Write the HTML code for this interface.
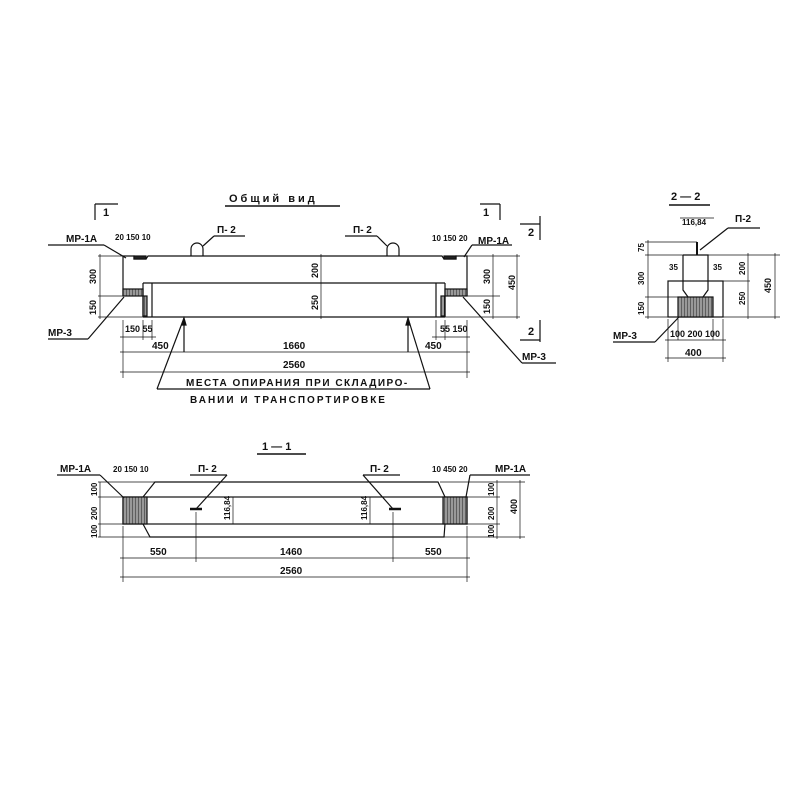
<!DOCTYPE html>
<html><head><meta charset="utf-8"><style>
html,body{margin:0;padding:0;background:#fff}
svg{display:block}
text{font-family:"Liberation Sans","DejaVu Sans",sans-serif;font-weight:bold;fill:#111}
</style></head><body>
<svg width="800" height="800" viewBox="0 0 800 800" xmlns="http://www.w3.org/2000/svg">
<defs>
<pattern id="h" width="3" height="3" patternUnits="userSpaceOnUse"><rect width="3" height="3" fill="#999"/><line x1="0" y1="0" x2="0" y2="3" stroke="#222" stroke-width="1"/></pattern>
</defs>
<g stroke="#111" fill="none" stroke-width="1.2">
<!-- ===== Общий вид ===== -->
<line x1="225" y1="206" x2="340" y2="206" stroke-width="1.5"/>
<!-- beam -->
<polyline points="123,296 123,256 134,256 134,259 146,259 148,256 442,256 444,259 456,259 456,256 467,256 467,296"/>
<line x1="143" y1="283" x2="445" y2="283"/>
<line x1="143" y1="317" x2="445" y2="317"/>
<line x1="143" y1="283" x2="143" y2="317"/>
<line x1="152" y1="283" x2="152" y2="317"/>
<line x1="445" y1="283" x2="445" y2="317"/>
<line x1="436" y1="283" x2="436" y2="317"/>
<rect x="123" y="289" width="20" height="7" fill="url(#h)"/>
<rect x="143" y="296" width="4" height="20" fill="url(#h)"/>
<rect x="445" y="289" width="22" height="7" fill="url(#h)"/>
<rect x="441" y="296" width="4" height="20" fill="url(#h)"/>
<rect x="134" y="256" width="12" height="3" fill="#222"/>
<rect x="444" y="256" width="12" height="3" fill="#222"/>
<!-- loops -->
<path d="M191,256 V249 a6,6 0 0 1 12,0 V256"/>
<path d="M387,256 V249 a6,6 0 0 1 12,0 V256"/>
<line x1="203" y1="246" x2="214" y2="236"/><line x1="214" y1="236" x2="245" y2="236"/>
<line x1="387" y1="246" x2="377" y2="236"/><line x1="377" y1="236" x2="345" y2="236"/>
<!-- section marks -->
<line x1="95" y1="204" x2="118" y2="204"/><line x1="95" y1="204" x2="95" y2="220"/>
<line x1="480" y1="204" x2="500" y2="204"/><line x1="500" y1="204" x2="500" y2="220"/>
<line x1="520" y1="224" x2="540" y2="224"/><line x1="540" y1="216" x2="540" y2="240"/>
<line x1="520" y1="340" x2="540" y2="340"/><line x1="540" y1="320" x2="540" y2="342"/>
<!-- left dims -->
<line x1="98" y1="256" x2="123" y2="256" stroke-width="0.7"/>
<line x1="98" y1="296" x2="123" y2="296" stroke-width="0.7"/>
<line x1="98" y1="317" x2="143" y2="317" stroke-width="0.7"/>
<line x1="100" y1="254" x2="100" y2="319" stroke-width="0.7"/>
<line x1="123" y1="320" x2="123" y2="378" stroke-width="0.7"/>
<line x1="467" y1="320" x2="467" y2="378" stroke-width="0.7"/>
<line x1="143" y1="320" x2="143" y2="340" stroke-width="0.7"/>
<line x1="152" y1="320" x2="152" y2="340" stroke-width="0.7"/>
<line x1="120" y1="337" x2="156" y2="337" stroke-width="0.7"/>
<line x1="120" y1="352" x2="470" y2="352" stroke-width="0.7"/>
<line x1="120" y1="372" x2="470" y2="372" stroke-width="0.7"/>
<line x1="436" y1="320" x2="436" y2="340" stroke-width="0.7"/>
<line x1="445" y1="320" x2="445" y2="340" stroke-width="0.7"/>
<line x1="432" y1="337" x2="470" y2="337" stroke-width="0.7"/>
<!-- center dims -->
<line x1="321" y1="254" x2="321" y2="319" stroke-width="0.7"/>
<!-- right dims -->
<line x1="467" y1="256" x2="520" y2="256" stroke-width="0.7"/>
<line x1="467" y1="296" x2="500" y2="296" stroke-width="0.7"/>
<line x1="445" y1="317" x2="520" y2="317" stroke-width="0.7"/>
<line x1="493" y1="254" x2="493" y2="319" stroke-width="0.7"/>
<line x1="517" y1="254" x2="517" y2="319" stroke-width="0.7"/>
<!-- leaders -->
<line x1="48" y1="245" x2="104" y2="245"/><line x1="104" y1="245" x2="126" y2="258"/>
<line x1="48" y1="339" x2="88" y2="339"/><line x1="88" y1="339" x2="124" y2="297"/>
<line x1="472" y1="245" x2="512" y2="245"/><line x1="472" y1="245" x2="464" y2="257"/>
<line x1="522" y1="363" x2="556" y2="363"/><line x1="522" y1="363" x2="463" y2="297"/>
<!-- supports -->
<line x1="184" y1="320" x2="184" y2="352"/>
<path d="M184,318 l-2,7 h4 z" fill="#111"/>
<line x1="408" y1="320" x2="408" y2="352"/>
<path d="M408,318 l-2,7 h4 z" fill="#111"/>
<line x1="184" y1="318" x2="157" y2="389"/>
<line x1="408" y1="318" x2="430" y2="389"/>
<line x1="157" y1="389" x2="430" y2="389"/>
<!-- ===== 1-1 ===== -->
<line x1="257" y1="454" x2="306" y2="454" stroke-width="1.5"/>
<polyline points="143,497 155,482 438,482 445,497"/>
<polyline points="143,524 150,537 444,537 445,524"/>
<rect x="123" y="497" width="344" height="27"/>
<rect x="123" y="497" width="24" height="27" fill="url(#h)"/>
<rect x="443" y="497" width="24" height="27" fill="url(#h)"/>
<line x1="190" y1="509" x2="202" y2="509" stroke-width="2.5"/>
<line x1="389" y1="509" x2="401" y2="509" stroke-width="2.5"/>
<line x1="57" y1="475" x2="100" y2="475"/><line x1="100" y1="475" x2="124" y2="498"/>
<line x1="190" y1="475" x2="227" y2="475"/><line x1="227" y1="475" x2="196" y2="509"/>
<line x1="363" y1="475" x2="400" y2="475"/><line x1="363" y1="475" x2="393" y2="509"/>
<line x1="470" y1="475" x2="530" y2="475"/><line x1="470" y1="475" x2="466" y2="497"/>
<line x1="100" y1="482" x2="100" y2="537" stroke-width="0.7"/>
<line x1="98" y1="482" x2="155" y2="482" stroke-width="0.7"/>
<line x1="98" y1="497" x2="123" y2="497" stroke-width="0.7"/>
<line x1="98" y1="524" x2="123" y2="524" stroke-width="0.7"/>
<line x1="98" y1="537" x2="150" y2="537" stroke-width="0.7"/>
<line x1="440" y1="482" x2="525" y2="482" stroke-width="0.7"/>
<line x1="467" y1="497" x2="500" y2="497" stroke-width="0.7"/>
<line x1="467" y1="524" x2="500" y2="524" stroke-width="0.7"/>
<line x1="444" y1="537" x2="525" y2="537" stroke-width="0.7"/>
<line x1="497" y1="480" x2="497" y2="539" stroke-width="0.7"/>
<line x1="520" y1="480" x2="520" y2="539" stroke-width="0.7"/>
<line x1="123" y1="526" x2="123" y2="582" stroke-width="0.7"/>
<line x1="467" y1="526" x2="467" y2="582" stroke-width="0.7"/>
<line x1="196" y1="512" x2="196" y2="562" stroke-width="0.7"/>
<line x1="393" y1="512" x2="393" y2="562" stroke-width="0.7"/>
<line x1="120" y1="558" x2="470" y2="558" stroke-width="0.7"/>
<line x1="120" y1="577" x2="470" y2="577" stroke-width="0.7"/>
<line x1="233" y1="497" x2="233" y2="524" stroke-width="0.7"/>
<line x1="370" y1="497" x2="370" y2="524" stroke-width="0.7"/>
<!-- ===== 2-2 ===== -->
<line x1="669" y1="205" x2="710" y2="205" stroke-width="1.5"/>
<polyline points="683,255 708,255 708,290 703,297"/>
<polyline points="683,255 683,290 688,297"/>
<rect x="668" y="281" width="55" height="36"/>
<rect x="678" y="297" width="35" height="20" fill="url(#h)"/>
<line x1="697" y1="242" x2="697" y2="255" stroke-width="2"/>
<line x1="700" y1="250" x2="728" y2="228"/><line x1="728" y1="228" x2="760" y2="228"/>
<line x1="613" y1="342" x2="655" y2="342"/><line x1="655" y1="342" x2="679" y2="317"/>
<line x1="648" y1="240" x2="648" y2="319" stroke-width="0.7"/>
<line x1="645" y1="242" x2="697" y2="242" stroke-width="0.7"/>
<line x1="645" y1="255" x2="683" y2="255" stroke-width="0.7"/>
<line x1="645" y1="297" x2="678" y2="297" stroke-width="0.7"/>
<line x1="645" y1="317" x2="668" y2="317" stroke-width="0.7"/>
<line x1="708" y1="255" x2="780" y2="255" stroke-width="0.7"/>
<line x1="723" y1="281" x2="750" y2="281" stroke-width="0.7"/>
<line x1="723" y1="317" x2="780" y2="317" stroke-width="0.7"/>
<line x1="748" y1="253" x2="748" y2="319" stroke-width="0.7"/>
<line x1="775" y1="253" x2="775" y2="319" stroke-width="0.7"/>
<line x1="680" y1="218" x2="714" y2="218" stroke-width="0.7"/>
<line x1="668" y1="319" x2="668" y2="362" stroke-width="0.7"/>
<line x1="723" y1="319" x2="723" y2="362" stroke-width="0.7"/>
<line x1="678" y1="319" x2="678" y2="340" stroke-width="0.7"/>
<line x1="713" y1="319" x2="713" y2="340" stroke-width="0.7"/>
<line x1="665" y1="340" x2="726" y2="340" stroke-width="0.7"/>
<line x1="665" y1="358" x2="726" y2="358" stroke-width="0.7"/>
</g>
<!-- text -->
<g font-size="10">
<text x="229" y="202" font-size="11" letter-spacing="3">Общий вид</text>
<text x="103" y="216" font-size="11">1</text>
<text x="483" y="216" font-size="11">1</text>
<text x="528" y="236" font-size="11">2</text>
<text x="528" y="335" font-size="11">2</text>
<text x="66" y="242">МР-1А</text>
<text x="478" y="244">МР-1А</text>
<text x="217" y="233">П- 2</text>
<text x="353" y="233">П- 2</text>
<text x="48" y="336">МР-3</text>
<text x="522" y="360">МР-3</text>
<text x="115" y="240" font-size="8">20 150 10</text>
<text x="432" y="241" font-size="8">10 150 20</text>
<text x="125" y="332" font-size="9">150 55</text>
<text x="440" y="332" font-size="9">55 150</text>
<text x="152" y="349">450</text>
<text x="425" y="349">450</text>
<text x="283" y="349">1660</text>
<text x="283" y="368">2560</text>
<text x="186" y="386" font-size="10" letter-spacing="1.5">МЕСТА ОПИРАНИЯ ПРИ СКЛАДИРО-</text>
<text x="190" y="403" font-size="10" letter-spacing="2">ВАНИИ И ТРАНСПОРТИРОВКЕ</text>
<g font-size="9">
<text transform="translate(96,284) rotate(-90)">300</text>
<text transform="translate(96,315) rotate(-90)">150</text>
<text transform="translate(318,278) rotate(-90)">200</text>
<text transform="translate(318,310) rotate(-90)">250</text>
<text transform="translate(490,284) rotate(-90)">300</text>
<text transform="translate(490,314) rotate(-90)">150</text>
<text transform="translate(515,290) rotate(-90)">450</text>
</g>
<!-- 1-1 -->
<text x="262" y="450" font-size="11">1 — 1</text>
<text x="60" y="472">МР-1А</text>
<text x="495" y="472">МР-1А</text>
<text x="198" y="472">П- 2</text>
<text x="370" y="472">П- 2</text>
<text x="113" y="472" font-size="8">20 150 10</text>
<text x="432" y="472" font-size="8">10 450 20</text>
<text x="150" y="555">550</text>
<text x="280" y="555">1460</text>
<text x="425" y="555">550</text>
<text x="280" y="574">2560</text>
<g font-size="8">
<text transform="translate(97,496) rotate(-90)">100</text>
<text transform="translate(97,520) rotate(-90)">200</text>
<text transform="translate(97,538) rotate(-90)">100</text>
<text transform="translate(494,496) rotate(-90)">100</text>
<text transform="translate(494,520) rotate(-90)">200</text>
<text transform="translate(494,538) rotate(-90)">100</text>
<text transform="translate(230,520) rotate(-90)">116,84</text>
<text transform="translate(367,520) rotate(-90)">116,84</text>
</g>
<text transform="translate(517,514) rotate(-90)" font-size="9">400</text>
<!-- 2-2 -->
<text x="671" y="200" font-size="11">2 — 2</text>
<text x="735" y="222">П-2</text>
<text x="613" y="339">МР-3</text>
<text x="682" y="225" font-size="8">116,84</text>
<text x="669" y="270" font-size="8">35</text>
<text x="713" y="270" font-size="8">35</text>
<text x="670" y="337" font-size="9">100 200 100</text>
<text x="685" y="356" font-size="10">400</text>
<g font-size="8">
<text transform="translate(644,252) rotate(-90)">75</text>
<text transform="translate(644,285) rotate(-90)">300</text>
<text transform="translate(644,315) rotate(-90)">150</text>
<text transform="translate(745,275) rotate(-90)">200</text>
<text transform="translate(745,305) rotate(-90)">250</text>
<text transform="translate(771,293) rotate(-90)" font-size="9">450</text>
</g>
</g>
</svg>
</body></html>
